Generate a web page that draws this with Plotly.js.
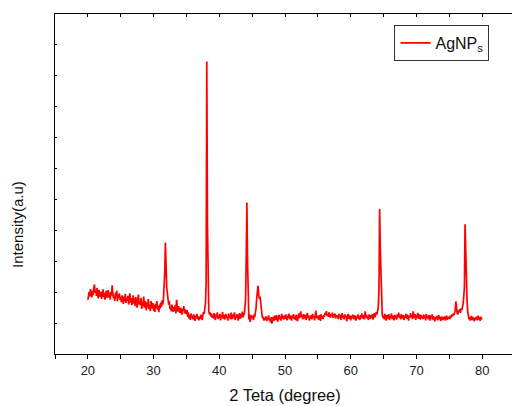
<!DOCTYPE html>
<html>
<head>
<meta charset="utf-8">
<script src="https://cdn.plot.ly/plotly-3.0.1.min.js"></script>
<style>
html,body{margin:0;padding:0;overflow:hidden;background:#fff;}
#chart{width:530px;height:406px;}
</style>
</head>
<body>
<div id="chart"></div>
<script>
// 2-theta sampling: 20.0 to 80.0 deg, step 0.1 deg
const thetaStart = 20.0;
const thetaStep = 0.1;
// Intensity (a.u.), 10 values per degree
const intensity = [
175,192,201,186,210,197,183,204,190,212,
225,198,206,188,214,192,180,207,196,185,
201,178,195,209,184,199,176,192,205,181,
194,207,183,198,176,201,189,222,195,180,
188,172,199,184,205,170,192,181,196,175,
183,168,190,177,162,186,171,195,165,180,
172,188,160,178,196,166,181,158,175,190,
163,179,155,184,168,150,176,192,160,171,
158,182,146,169,155,186,150,172,162,141,
167,151,178,145,160,139,171,154,148,165,
140,158,136,162,149,171,143,155,135,160,
147,166,152,174,160,178,205,262,361,268,
215,196,178,160,171,145,152,138,160,147,
136,152,140,158,131,175,146,137,155,142,
133,150,138,127,146,140,155,131,144,136,
129,142,120,135,114,126,110,131,118,124,
112,128,119,107,125,116,130,113,122,109,
121,114,127,118,110,124,135,130,148,165,
230,946,420,175,140,128,135,122,131,118,
126,115,132,121,110,128,119,135,113,124,
117,130,109,125,120,136,114,127,111,123,
129,116,122,108,131,118,126,112,134,120,
113,127,119,135,110,124,116,129,121,108,
125,132,114,128,120,137,118,130,126,145,
175,310,490,300,150,112,128,104,119,125,
116,123,110,128,119,131,150,182,210,221,
192,178,186,160,142,128,115,120,108,117,
111,122,106,118,113,125,109,116,102,119,
98,112,120,107,124,115,110,126,113,105,
118,127,112,121,108,130,116,123,111,125,
114,120,128,109,122,117,131,112,124,119,
108,125,116,129,113,121,110,127,118,106,
122,131,115,126,138,119,124,112,129,120,
115,127,110,122,133,117,125,108,121,114,
126,112,130,119,123,109,128,140,116,124,
118,111,125,120,107,129,115,122,113,126,
121,133,127,139,124,130,120,135,126,118,
129,122,134,117,128,121,131,115,126,119,
124,113,130,118,127,110,122,132,116,125,
112,128,119,124,106,121,130,114,126,117,
109,123,115,127,118,112,125,120,108,122,
116,128,113,121,110,126,119,131,114,120,
125,112,138,119,127,115,123,110,128,121,
114,126,118,129,111,124,132,119,127,135,
128,138,152,205,469,340,262,150,128,117,
124,112,130,119,108,126,121,115,129,110,
122,118,131,113,125,120,109,127,116,123,
111,128,120,134,117,124,112,129,121,115,
126,110,123,118,130,114,127,121,108,124,
117,132,120,126,113,138,122,116,129,110,
125,119,133,114,122,128,111,126,118,121,
113,127,116,124,109,130,119,122,112,126,
120,108,125,115,128,111,122,117,106,119,
114,123,109,118,126,112,120,107,116,121,
110,119,113,122,108,117,124,111,118,115,
121,113,125,118,128,122,131,126,135,141,
170,138,132,128,140,136,145,133,148,142,
150,162,185,215,420,310,262,175,138,125,
112,120,108,117,123,110,119,114,106,118,
113,121,109,116,124,111,118,107,120,115,
112
];
const twoTheta = intensity.map((_, i) => +(thetaStart + i * thetaStep).toFixed(1));
const seriesName = 'AgNP<sub>s</sub>';
const xTitle = '2 Teta (degree)';
const yTitle = 'Intensity(a.u)';

const FONT = 'Arial, "Liberation Sans", sans-serif';

const traces = [
  {
    x: twoTheta, y: intensity, type: 'scatter', mode: 'lines',
    name: seriesName,
    line: {color: '#ff0000', width: 1.7}
  },
  {
    x: twoTheta, y: intensity, type: 'scatter', mode: 'lines',
    xaxis: 'x2', showlegend: false, hoverinfo: 'skip',
    line: {color: 'rgba(0,0,0,0)', width: 0}
  }
];

const layout = {
  width: 530, height: 406,
  margin: {l: 55, r: 15, t: 14, b: 52},
  paper_bgcolor: '#fff', plot_bgcolor: '#fff',
  font: {family: FONT, color: '#222'},
  showlegend: true,
  legend: {
    x: 0.738, y: 0.968, xanchor: 'left', yanchor: 'top',
    bordercolor: '#333', borderwidth: 1, bgcolor: '#fff',
    font: {family: FONT, size: 16, color: '#111'}
  },
  xaxis: {
    range: [15, 85], tick0: 0, dtick: 10,
    showgrid: false, zeroline: false,
    showline: true, linecolor: '#000', linewidth: 1,
    ticks: 'outside', ticklen: 4, tickcolor: '#000',
    minor: {dtick: 5, tick0: 0, ticks: 'outside', ticklen: 4, tickcolor: '#000', showgrid: false},
    tickfont: {family: FONT, size: 13, color: '#222'},
    title: {text: xTitle, font: {family: FONT, size: 16.5, color: '#111'}, standoff: 12}
  },
  xaxis2: {
    overlaying: 'x', side: 'top', anchor: 'y',
    range: [15, 85], tick0: 0, dtick: 5,
    showgrid: false, zeroline: false,
    showline: true, linecolor: '#000', linewidth: 1,
    ticks: 'inside', ticklen: 3, tickcolor: '#000',
    showticklabels: false
  },
  yaxis: {
    range: [0, 1100], tick0: 0, dtick: 100,
    showgrid: false, zeroline: false,
    showline: true, linecolor: '#000', linewidth: 1,
    ticks: 'inside', ticklen: 2, tickcolor: '#000',
    showticklabels: false
  },
  annotations: [{
    text: yTitle, textangle: -90,
    xref: 'paper', yref: 'paper', x: -0.083, y: 0.382,
    xanchor: 'center', yanchor: 'middle', showarrow: false,
    font: {family: FONT, size: 15, color: '#111'}
  }]
};

Plotly.newPlot('chart', traces, layout, {displayModeBar: false, staticPlot: true});
</script>
</body>
</html>
